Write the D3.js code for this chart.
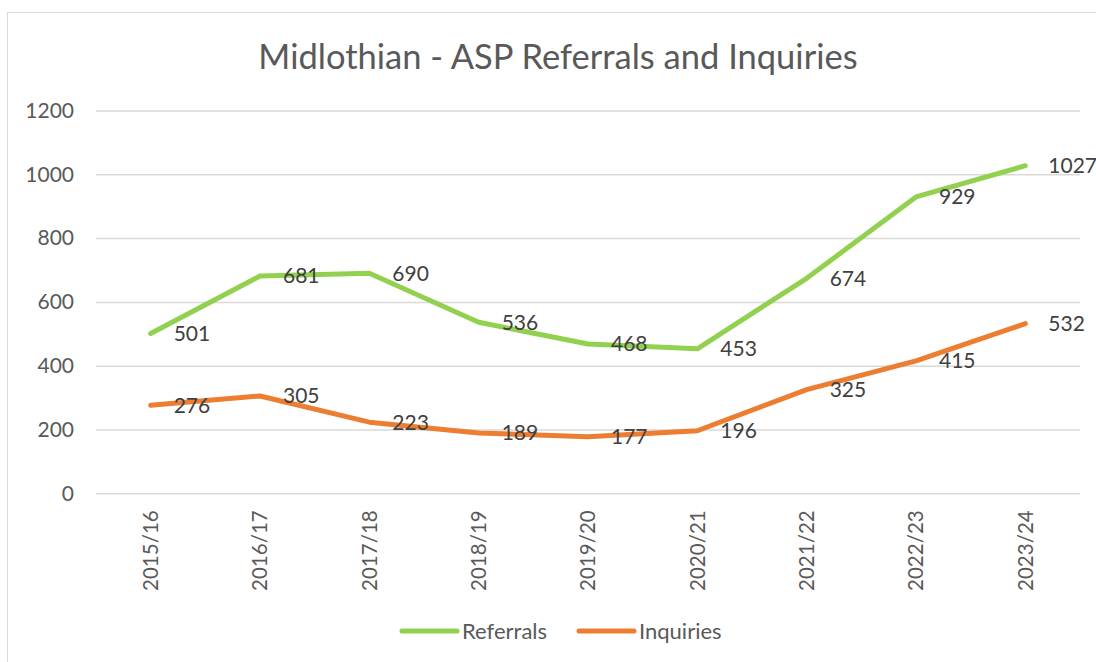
<!DOCTYPE html>
<html><head><meta charset="utf-8">
<script src="https://cdn.jsdelivr.net/npm/d3@7"></script>
<style>body{margin:0;background:#fff}svg{display:block}</style>
</head><body>
<script>
const categories = ["2015/16","2016/17","2017/18","2018/19","2019/20","2020/21","2021/22","2022/23","2023/24"];
const referrals = [501,681,690,536,468,453,674,929,1027];
const inquiries = [276,305,223,189,177,196,325,415,532];
const yTicks = [0,200,400,600,800,1000,1200];
const title = "Midlothian - ASP Referrals and Inquiries";
const seriesNames = ["Referrals","Inquiries"];
const colors = ["#92D050","#ED7D31"];

const W=1096,H=662;
const svg=d3.select("body").append("svg").attr("width",W).attr("height",H);
const font="Lato, 'Open Sans', sans-serif";
svg.append("rect").attr("x",7.5).attr("y",12.5).attr("width",W).attr("height",H).attr("fill","#fff").attr("stroke","#d9d9d9");

const x=d3.scaleBand().domain(categories).range([96,1080]);
const y=d3.scaleLinear().domain([0,1200]).range([493.3,110.5]);

svg.append("text").attr("x",558).attr("y",69).attr("text-anchor","middle")
  .attr("font-family",font).attr("font-size",34.5).attr("fill","#595959").text(title);

const yAxis=svg.append("g").attr("transform","translate(96,0)")
  .call(d3.axisLeft(y).tickValues(yTicks).tickSize(-984).tickPadding(22).tickFormat(d3.format("d")));
yAxis.select(".domain").remove();
yAxis.selectAll("line").attr("stroke","#d9d9d9").attr("stroke-width",1.5);
yAxis.selectAll("text").attr("font-family",font).attr("font-size",21).attr("fill","#595959");

const xAxis=svg.append("g").attr("transform","translate(0,493.3)")
  .call(d3.axisBottom(x).tickSize(0).tickPadding(0));
xAxis.select(".domain").remove();
xAxis.selectAll("text").attr("font-family",font).attr("font-size",20.5).attr("fill","#595959")
  .attr("transform","rotate(-90)").attr("text-anchor","end").attr("dy","0.35em").attr("x",-17).attr("y",0);

const cx=d=>x(d)+x.bandwidth()/2;
const data=[referrals,inquiries];
const line=d3.line().x((d,i)=>cx(categories[i])).y(d=>y(d));
data.forEach((s,k)=>{
  svg.append("path").datum(s).attr("d",line).attr("fill","none").attr("stroke",colors[k])
    .attr("stroke-width",5).attr("stroke-linecap","round").attr("stroke-linejoin","round");
});
data.forEach((s,k)=>{
  svg.append("g").selectAll("text").data(s).join("text")
    .attr("x",(d,i)=>cx(categories[i])+23).attr("y",d=>y(d)).attr("dy","0.35em")
    .attr("font-family",font).attr("font-size",21).attr("fill","#404040").text(d=>d);
});

const lg=svg.append("g");
const lx=[402,579];
seriesNames.forEach((n,k)=>{
  lg.append("line").attr("x1",lx[k]).attr("x2",lx[k]+55).attr("y1",631).attr("y2",631)
    .attr("stroke",colors[k]).attr("stroke-width",5).attr("stroke-linecap","round");
  lg.append("text").attr("x",lx[k]+60).attr("y",631).attr("dy","0.35em")
    .attr("font-family",font).attr("font-size",22).attr("fill","#595959").text(n);
});
</script>
</body></html>
